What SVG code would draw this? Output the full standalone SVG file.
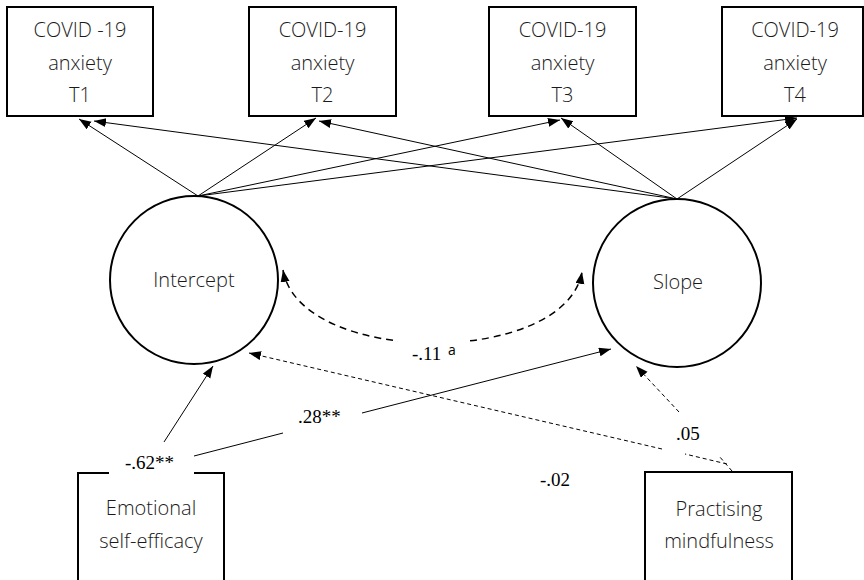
<svg xmlns="http://www.w3.org/2000/svg" width="864" height="580" viewBox="0 0 864 580">
<style>
.box{fill:#fff;stroke:#000;stroke-width:2}
.lat{fill:#fff;stroke:#000;stroke-width:2}
.t{font-family:"Open Sans","Noto Sans","Liberation Sans",sans-serif;font-weight:300;font-size:20px;fill:#1a1a1a;text-anchor:middle}
.n{font-family:"Liberation Serif","Times New Roman",serif;font-size:19px;fill:#000}
.sup{font-family:"Open Sans","Noto Sans","Liberation Sans",sans-serif;font-size:14px;fill:#000}
.c{fill:none;stroke:#000;stroke-width:1}
.cov{fill:none;stroke:#000;stroke-width:1.5;stroke-dasharray:7 5}
.dot{fill:none;stroke:#000;stroke-width:1;stroke-dasharray:4 3}
</style>
<defs>
<marker id="ah" markerUnits="userSpaceOnUse" markerWidth="13" markerHeight="10" refX="12" refY="4.5" orient="auto-start-reverse">
<path d="M0,0 L12,4.5 L0,9 z" fill="#000"/>
</marker>
</defs>
<rect width="864" height="580" fill="#fff"/>

<g id="connectors">
<line class="c" x1="198" y1="196" x2="79" y2="119" marker-end="url(#ah)"/>
<line class="c" x1="677" y1="199" x2="94" y2="121" marker-end="url(#ah)"/>
<line class="c" x1="198" y1="196" x2="316" y2="118" marker-end="url(#ah)"/>
<line class="c" x1="677" y1="199" x2="319" y2="121" marker-end="url(#ah)"/>
<line class="c" x1="198" y1="196" x2="560" y2="120" marker-end="url(#ah)"/>
<line class="c" x1="677" y1="199" x2="561" y2="118" marker-end="url(#ah)"/>
<line class="c" x1="198" y1="196" x2="797" y2="118" marker-end="url(#ah)"/>
<line class="c" x1="677" y1="199" x2="797" y2="119" marker-end="url(#ah)"/>
<path class="cov" d="M283,270 C300,367 565,367 582,272" marker-start="url(#ah)" marker-end="url(#ah)"/>
<rect x="398" y="334" width="70" height="30" fill="#fff"/>
<line class="c" x1="164" y1="442" x2="213" y2="366" marker-end="url(#ah)"/>
<line class="c" x1="194" y1="456" x2="283" y2="433"/>
<line class="c" x1="362" y1="413" x2="611" y2="349" marker-end="url(#ah)"/>
<line class="dot" x1="727" y1="464" x2="685" y2="454"/>
<line class="dot" x1="662" y1="449" x2="249" y2="353" marker-end="url(#ah)"/>
<line class="dot" x1="732" y1="471" x2="719" y2="456"/>
<line class="dot" x1="679" y1="412" x2="636" y2="366" marker-end="url(#ah)"/>
</g>

<g id="t1"><rect class="box" x="7" y="7" width="146" height="109"/><text class="t" x="80" y="37">COVID -19</text><text class="t" x="80" y="70">anxiety</text><text class="t" x="80" y="102">T1</text></g>
<g id="t2"><rect class="box" x="249" y="7" width="147" height="109"/><text class="t" x="322.5" y="37">COVID-19</text><text class="t" x="322.5" y="70">anxiety</text><text class="t" x="322.5" y="102">T2</text></g>
<g id="t3"><rect class="box" x="489" y="7" width="147" height="109"/><text class="t" x="562.5" y="37">COVID-19</text><text class="t" x="562.5" y="70">anxiety</text><text class="t" x="562.5" y="102">T3</text></g>
<g id="t4"><rect class="box" x="722" y="7" width="141" height="109"/><text class="t" x="795" y="37">COVID-19</text><text class="t" x="795" y="70">anxiety</text><text class="t" x="795" y="102">T4</text></g>

<g id="intercept"><circle class="lat" cx="194" cy="280" r="84"/><text class="t" x="194" y="287">Intercept</text></g>
<g id="slope"><circle class="lat" cx="677" cy="283" r="84"/><text class="t" x="678" y="289">Slope</text></g>

<g id="ese">
<path d="M109,473 H78 V582 M194,473 H224 V582" fill="none" stroke="#000" stroke-width="2"/>
<text class="t" x="151" y="515">Emotional</text><text class="t" x="151" y="548">self-efficacy</text>
</g>
<g id="pm">
<path d="M645,582 V472 H792 V582" fill="none" stroke="#000" stroke-width="2"/>
<text class="t" x="719" y="516">Practising</text><text class="t" x="719" y="548">mindfulness</text>
</g>

<g id="labels">
<text class="n" x="412" y="360">-.11</text><text class="sup" x="448" y="355">a</text>
<text class="n" x="125" y="469">-.62**</text>
<text class="n" x="298" y="423">.28**</text>
<text class="n" x="676" y="440">.05</text>
<text class="n" x="540" y="486">-.02</text>
</g>
</svg>
